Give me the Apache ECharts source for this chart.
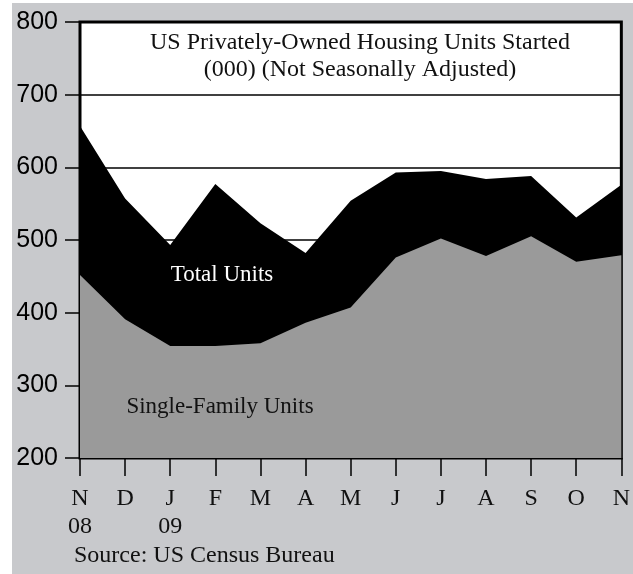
<!DOCTYPE html>
<html>
<head>
<meta charset="utf-8">
<script src="https://cdn.jsdelivr.net/npm/echarts@6/dist/echarts.min.js"></script>
<style>
  html, body { margin: 0; padding: 0; background: #fff; }
  #chart { position: absolute; left: 12px; top: 3px; width: 621px; height: 571px; }
</style>
</head>
<body>
<div id="chart"></div>
<script>
  // month labels, Nov 2008 .. Nov 2009
  const months = ['N\n08', 'D', 'J\n09', 'F', 'M', 'A', 'M', 'J', 'J', 'A', 'S', 'O', 'N']
  // housing starts, thousands
  const totalUnits = [657, 557, 493, 577, 523, 482, 554, 593, 595, 584, 588, 531, 576]
  const singleFamily = [452, 391, 354, 354, 358, 386, 407, 476, 502, 478, 505, 470, 479]

  const serif = "'Liberation Serif', 'Times New Roman', serif"
  const sans = "'Liberation Sans', Arial, sans-serif"

  let chart = echarts.init(document.getElementById('chart'))

  const option = {
    backgroundColor: '#c8c9cc',
    animation: false,
    title: {
      text: 'US Privately-Owned Housing Units Started\n(000) (Not Seasonally Adjusted)',
      left: 343,
      top: 21,
      textAlign: 'center',
      textStyle: {
        fontFamily: serif,
        fontSize: 24,
        fontWeight: 'normal',
        color: '#111',
        lineHeight: 27
      }
    },
    grid: {
      left: 68,
      right: 3,
      top: 19,
      bottom: 116,
      show: true,
      backgroundColor: '#fff',
      borderColor: '#000',
      borderWidth: 3
    },
    xAxis: {
      type: 'category',
      data: months,
      boundaryGap: false,
      axisLine: { show: false },
      axisTick: { show: true, length: 18, lineStyle: { color: '#000', width: 1.5 } },
      axisLabel: {
        fontFamily: serif,
        fontSize: 24,
        lineHeight: 28,
        color: '#111',
        margin: 27,
        interval: 0
      },
      splitLine: { show: false }
    },
    yAxis: {
      type: 'value',
      min: 200,
      max: 800,
      interval: 100,
      axisLine: { show: false },
      axisTick: { show: true, length: 15, lineStyle: { color: '#000', width: 1.5 } },
      axisLabel: {
        fontFamily: sans,
        fontSize: 25,
        color: '#000',
        margin: 22
      },
      splitLine: { show: true, lineStyle: { color: '#000', width: 1.5 } }
    },
    graphic: [
      {
        type: 'text',
        style: {
          text: 'Total Units',
          x: 210, y: 272,
          align: 'center',
          verticalAlign: 'middle',
          font: '23px ' + serif,
          fill: '#fff'
        },
        z: 100
      },
      {
        type: 'text',
        style: {
          text: 'Single-Family Units',
          x: 208, y: 404,
          align: 'center',
          verticalAlign: 'middle',
          font: '23px ' + serif,
          fill: '#111'
        },
        z: 100
      },
      {
        type: 'text',
        style: {
          text: 'Source: US Census Bureau',
          x: 62, y: 553,
          align: 'left',
          verticalAlign: 'middle',
          font: '24px ' + serif,
          fill: '#111'
        },
        z: 100
      }
    ],
    series: [
      {
        name: 'Total Units',
        type: 'line',
        data: totalUnits,
        symbol: 'none',
        lineStyle: { width: 0 },
        areaStyle: { color: '#000', opacity: 1, origin: 'start' },
        z: 2
      },
      {
        name: 'Single-Family Units',
        type: 'line',
        data: singleFamily,
        symbol: 'none',
        lineStyle: { width: 0 },
        areaStyle: { color: '#9a9a9a', opacity: 1, origin: 'start' },
        z: 3
      }
    ]
  }

  chart.setOption(option)
</script>
</body>
</html>
